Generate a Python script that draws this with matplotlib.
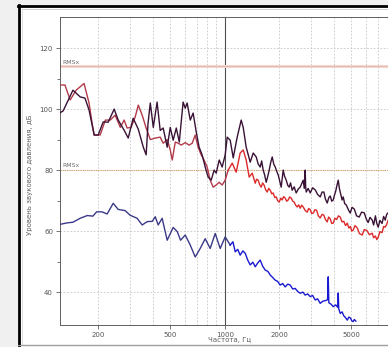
import numpy as np
import matplotlib.pyplot as plt
from matplotlib.patches import Rectangle

# spectra (frequency in Hz, level in dB)
dark_f = [123, 128, 145, 159, 169, 178, 190, 200, 213, 227, 245, 258, 278, 293, 312, 333,
          355, 368, 377, 388, 403, 423, 440, 457, 481, 500, 519, 540, 561, 589, 605, 620,
          645, 669, 696, 722, 751, 780, 810, 842, 874, 897, 932, 968, 1006, 1032, 1072, 1114,
          1172, 1233, 1265, 1314, 1383, 1437,
          1493, 1530, 1570, 1600, 1631, 1660, 1695, 1730, 1761, 1795, 1830, 1865, 1901, 1940,
          1975, 2010, 2051, 2080, 2104, 2140, 2186, 2230, 2271, 2310, 2359, 2420, 2482, 2550,
          2612, 2660, 2714, 2750, 2784, 2800, 2820, 2890, 2968, 3060, 3162, 3260, 3370, 3450,
          3530, 3600, 3683, 3760, 3830, 3900, 3977, 4040, 4100, 4170, 4237, 4300, 4380, 4450,
          4515, 4600, 4700, 4820, 4936, 5050, 5200, 5350, 5534, 5700, 5900, 6050, 6200, 6350,
          6530, 6650, 6800, 6920, 7048, 7200, 7400, 7550, 7703, 7850, 8004]
dark_db = [98.8, 99.4, 106.2, 104.0, 103.6, 99.7, 91.5, 91.5, 95.8, 95.7, 100.0, 96.4, 93.1, 90.5, 97.0, 93.4,
           87.5, 85.0, 95.4, 102.0, 94.0, 102.3, 93.0, 93.8, 87.5, 94.0, 89.8, 93.8, 89.2, 102.3, 100.3, 102.0,
           96.4, 98.7, 92.5, 87.5, 84.9, 81.0, 77.7, 76.7, 80.0, 79.0, 83.3, 81.0, 85.0, 90.8, 89.8, 84.0,
           90.8, 96.4, 94.0, 87.5, 82.6, 85.6,
           84.3, 82.0, 81.0, 83.0, 80.0, 78.5, 76.0, 78.0, 80.0, 82.5, 84.3, 82.0, 81.0, 79.5,
           78.4, 76.5, 74.4, 77.5, 80.0, 78.0, 76.7, 75.0, 74.4, 75.8, 73.4, 74.5, 72.5, 73.8,
           74.4, 75.5, 76.7, 74.0, 80.0, 74.5, 72.8, 74.0, 72.5, 74.2, 73.5, 72.0, 71.2, 72.8,
           72.8, 70.5, 69.2, 71.0, 71.5, 69.8, 70.2, 71.8, 73.0, 75.0, 76.7, 74.0, 72.0, 70.2,
           71.2, 69.0, 68.5, 67.0, 65.9, 67.8, 67.2, 65.0, 64.6, 66.2, 66.0, 64.0, 62.8, 64.5,
           63.6, 62.0, 65.0, 62.5, 61.3, 63.5, 62.5, 64.8, 63.6, 65.5, 66.0]

red_f = [123, 131, 140, 151, 167, 178, 185, 190, 205, 219, 233, 248, 265, 278, 289, 304,
         320, 333, 350, 368, 388, 413, 440, 457, 481, 500, 513, 533, 554, 575, 605, 636,
         661, 687, 713, 741, 769, 800, 831, 863, 897, 932, 968, 1006, 1045, 1100, 1157, 1217,
         1265, 1314, 1365, 1419,
         1474, 1500, 1531, 1560, 1590, 1620, 1652, 1685, 1717, 1750, 1784, 1820, 1853, 1890,
         1925, 1960, 2000, 2040, 2077, 2115, 2158, 2200, 2242, 2285, 2330, 2375, 2420, 2465,
         2514, 2560, 2612, 2660, 2714, 2780, 2856, 2910, 2968, 3020, 3084, 3150, 3220, 3290,
         3370, 3450, 3530, 3600, 3683, 3750, 3830, 3900, 3977, 4060, 4150, 4250, 4347, 4450,
         4550, 4650, 4755, 4850, 4950, 5030, 5121, 5250, 5400, 5550, 5750, 5900, 6100, 6300,
         6530, 6650, 6800, 6920, 7048, 7200, 7400, 7550, 7703, 7850, 8004]
red_db = [107.9, 107.9, 103.0, 106.2, 108.4, 102.0, 95.4, 91.5, 91.5, 96.4, 96.4, 98.0, 94.0, 96.4, 93.8, 94.0,
          97.4, 101.3, 98.0, 93.8, 90.0, 90.5, 90.8, 88.8, 90.0, 86.6, 83.3, 89.2, 88.8, 88.2, 89.0, 88.2,
          88.8, 91.5, 87.5, 85.0, 83.3, 81.0, 76.7, 74.4, 75.1, 76.0, 75.1, 76.7, 80.0, 82.3, 79.3, 85.6,
          86.6, 83.3, 77.7, 79.0,
          75.7, 77.0, 76.7, 75.2, 74.4, 75.8, 75.0, 73.5, 72.8, 74.0, 73.4, 72.2, 72.5, 71.0,
          71.2, 70.0, 69.5, 70.8, 70.2, 71.3, 70.8, 69.8, 70.2, 71.2, 70.8, 69.8, 69.5, 68.5,
          67.9, 68.6, 67.5, 68.5, 67.9, 66.8, 66.2, 67.4, 67.0, 65.8, 65.9, 67.0, 66.8, 65.0,
          64.3, 65.5, 65.2, 63.8, 63.0, 64.6, 64.0, 62.5, 62.6, 64.2, 63.8, 65.0, 64.6, 63.0,
          63.2, 61.8, 62.6, 61.0, 61.5, 60.0, 60.3, 61.8, 61.0, 59.2, 58.7, 60.5, 60.2, 58.8,
          59.3, 57.8, 58.4, 57.2, 58.0, 59.8, 59.5, 61.5, 61.3, 62.2, 63.6]

blue_f = [123, 135, 145, 159, 174, 187, 196, 210, 224, 242, 258, 282, 300, 328, 350, 373,
          398, 413, 429, 451, 481, 519, 547, 570, 605, 645, 687, 732, 780, 831, 886, 944,
          1006, 1072, 1110, 1143, 1180, 1217, 1260, 1298, 1340, 1383, 1430, 1474, 1520, 1570,
          1620, 1674, 1730, 1784, 1840, 1901, 1960, 2025, 2090, 2158, 2230, 2300, 2375, 2451,
          2530, 2612, 2700, 2784, 2870, 2968, 3060, 3162, 3260, 3370, 3480, 3600, 3700, 3731,
          3760, 3870, 3977, 4100, 4210, 4237, 4265, 4347, 4450, 4550, 4650, 4755, 4850, 4950,
          5030, 5121, 5200, 5300]
blue_db = [62.2, 62.7, 62.9, 64.2, 65.1, 64.9, 66.3, 66.3, 65.6, 69.1, 67.1, 66.7, 65.2, 64.2, 62.0, 63.1,
           63.2, 64.7, 62.0, 64.2, 57.0, 61.2, 59.8, 57.0, 58.7, 55.4, 51.5, 54.3, 57.5, 54.3, 59.2, 54.3,
           58.1, 55.4, 56.5, 53.2, 54.0, 52.1, 53.5, 52.7, 50.5, 48.9, 49.8, 48.3, 49.5, 50.5,
           48.5, 47.2, 46.8, 45.6, 44.8, 43.9, 43.5, 42.3, 42.8, 41.7, 42.6, 42.3, 41.0, 41.2,
           40.2, 39.6, 40.0, 39.0, 39.4, 38.5, 38.9, 37.4, 37.8, 36.3, 37.0, 37.2, 37.5, 45.0,
           36.5, 36.0, 35.2, 35.8, 35.0, 39.7, 34.5, 33.0, 33.5, 32.2, 31.6, 30.8, 31.8, 31.5,
           30.6, 30.3, 31.0, 30.5]

rms_levels = [114, 80]
y_major = [40, 60, 80, 100, 120]
y_minor = [50, 70, 90, 110]
x_major = [200, 500, 1000, 2000, 5000]
x_grid = [200, 300, 400, 500, 600, 700, 800, 900, 2000, 3000, 4000, 5000, 6000, 7000, 8000, 9000]

W, H = 388, 347
fig = plt.figure(figsize=(W / 100, H / 100), dpi=100, facecolor="#f0f0f0")

# window frame (cropped on the right)
fig.patches.append(Rectangle((19 / W, 1 - 344 / H), 1, (344 - 6) / H, transform=fig.transFigure,
                             facecolor="white", edgecolor="none", zorder=-5))
fig.add_artist(plt.Line2D([18.5 / W, 18.5 / W], [1 - 345 / H, 1 - 5 / H], transform=fig.transFigure,
                          color="black", lw=2.0))
fig.add_artist(plt.Line2D([18 / W, 1], [1 - 6 / H, 1 - 6 / H], transform=fig.transFigure,
                          color="black", lw=2.0))
fig.add_artist(plt.Line2D([22 / W, 1], [1 - 9 / H, 1 - 9 / H], transform=fig.transFigure,
                          color="#c8c8c8", lw=0.6))
fig.add_artist(plt.Line2D([22 / W, 22 / W], [1 - 344 / H, 1 - 9 / H], transform=fig.transFigure,
                          color="#d8d8d8", lw=0.6))
fig.add_artist(plt.Line2D([18 / W, 1], [1 - 344.5 / H, 1 - 344.5 / H], transform=fig.transFigure,
                          color="#a0a0a0", lw=0.8))

# plot area extends past the right edge of the screenshot
fmin, fmax = 123, 16000
px_per_dec = 181
ax = fig.add_axes([60 / W, 1 - 325 / H, px_per_dec * np.log10(fmax / fmin) / W, (325 - 17) / H])
ax.set_zorder(1)
ax.patch.set_alpha(0)
ax.set_xscale("log")
ax.set_xlim(fmin, fmax)
ax.set_ylim(29.2, 130.2)

for s in ax.spines.values():
    s.set_color("#606060")
    s.set_linewidth(0.7)

ax.set_xticks(x_major)
ax.set_xticklabels([str(v) for v in x_major])
ax.set_xticks(x_grid, minor=True)
ax.set_yticks(y_major)
ax.set_yticks(y_minor, minor=True)
ax.tick_params(axis="both", which="major", labelsize=5, colors="#606060", length=3, width=0.6, pad=2)
ax.tick_params(axis="y", which="minor", length=2, width=0.6, colors="#606060")
ax.tick_params(axis="x", which="minor", length=0)
ax.tick_params(labelcolor="#555555")

for v in x_grid:
    ax.axvline(v, color="#c6c6c6", lw=0.6, ls=(0, (2, 2)), zorder=1)
for v in y_major:
    ax.axhline(v, color="#c6c6c6", lw=0.6, ls=(0, (2, 2)), zorder=1)
ax.axvline(1000, color="#505050", lw=0.8, zorder=1)

# RMS marker lines
ax.axhline(rms_levels[0], color="#f2d8d0", lw=2.2, zorder=1)
ax.axhline(rms_levels[0], color="#dcb0a0", lw=0.5, zorder=1)
ax.axhline(rms_levels[1], color="#d8a060", lw=0.8, ls=(0, (1, 1)), zorder=1)
for lvl in rms_levels:
    ax.text(126, lvl + 0.6, "RMSx", fontsize=4.5, color="#707070", va="bottom", ha="left")

# curves (two tones along each curve, as in the screenshot)
red_f_a, red_db_a = np.array(red_f), np.array(red_db)
blue_f_a, blue_db_a = np.array(blue_f), np.array(blue_db)
m = red_f_a <= 1045
ax.plot(red_f_a[m], red_db_a[m], color="#b23a4a", lw=1.0, zorder=3)
ax.plot(red_f_a[red_f_a >= 1045], red_db_a[red_f_a >= 1045], color="#dc2a2a", lw=1.0, zorder=3)
ax.plot(dark_f, dark_db, color="#3a1236", lw=1.0, zorder=4)
mb = blue_f_a <= 1072
ax.plot(blue_f_a[mb], blue_db_a[mb], color="#3a3a88", lw=1.0, zorder=3)
ax.plot(blue_f_a[blue_f_a >= 1072], blue_db_a[blue_f_a >= 1072], color="#1a1ad0", lw=1.0, zorder=3)

fig.text(30 / W, 1 - 175 / H, "Уровень звукового давления, дБ", rotation=90, fontsize=5,
         color="#606060", ha="center", va="center")
fig.text(230 / W, 1 - 340 / H, "Частота, Гц", fontsize=5, color="#606060", ha="center", va="center")

fig.savefig("out.png", dpi=100, facecolor=fig.get_facecolor())
